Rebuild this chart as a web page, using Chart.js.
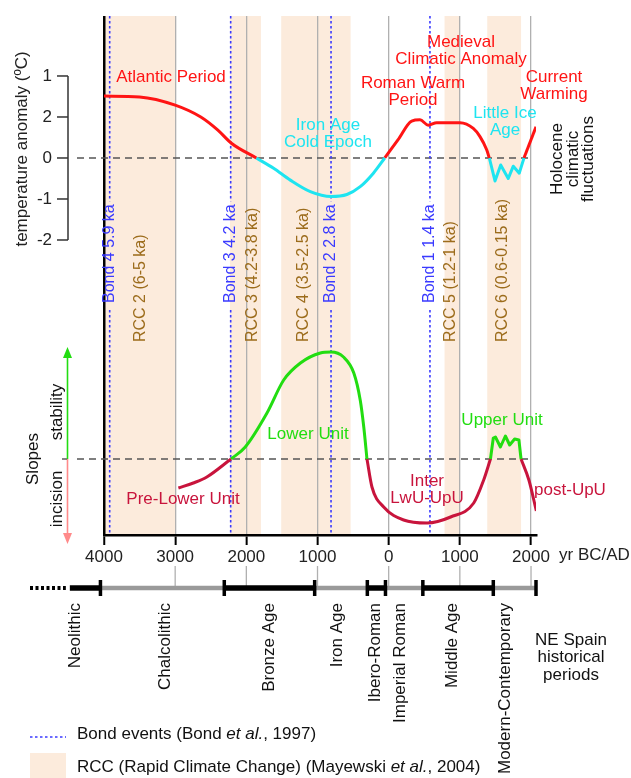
<!DOCTYPE html>
<html>
<head>
<meta charset="utf-8">
<title>Holocene climatic fluctuations and slope dynamics, NE Spain</title>
<script src="https://cdn.jsdelivr.net/npm/chart.js@4"></script>
<style>
  html, body { margin: 0; padding: 0; background: #fff; }
  #chart { display: block; }
</style>
</head>
<body>
<canvas id="chart" width="631" height="778"></canvas>
<script>
const FONT = '"Liberation Sans", Arial, Helvetica, sans-serif';

// temperature anomaly curve, split in warm / cold stretches (yr BC negative)
const atlanticYears = [-4000, -3500, -3000, -2640, -2400, -2210, -1860];
const atlanticValues = [1.51, 1.49, 1.29, 1.0, 0.68, 0.36, 0];
const ironYears = [-1860, -1617, -1382, -1101, -810, -587, -400, -215, -55];
const ironValues = [0, -0.25, -0.54, -0.82, -0.94, -0.89, -0.70, -0.37, 0];
const romanYears = [-55, 130, 323, 440, 556, 674, 1002, 1189, 1283, 1377, 1414];
const romanValues = [0, 0.44, 0.90, 0.93, 0.80, 0.86, 0.86, 0.72, 0.52, 0.20, 0];
const liaYears = [1414, 1494, 1574, 1680, 1751, 1835, 1901];
const liaValues = [0, -0.56, -0.17, -0.50, -0.20, -0.37, 0];
const currentYears = [1901, 2070];
const currentValues = [0, 0.76];

// slope stability / incision curve
const preLowerYears = [-2955, -2745, -2555, -2215];
const preLowerValues = [-2.9, -2.4, -1.8, 0];
const lowerYears = [-2215, -2015, -1710, -1475, -1240, -960, -810, -635, -490, -400, -350, -305];
const lowerValues = [0, 1.2, 4.6, 7.9, 9.6, 10.6, 10.7, 10.2, 8.6, 5.9, 3.2, 0];
const interYears = [-305, -235, -70, 210, 540, 870, 1195, 1335, 1430];
const interValues = [0, -2.8, -4.8, -6.1, -6.4, -5.8, -4.4, -2.1, 0];
const upperYears = [1430, 1470, 1500, 1570, 1640, 1700, 1770, 1830, 1860];
const upperValues = [0, 2.1, 2.2, 1.2, 2.3, 1.4, 2.0, 1.9, 0];
const postYears = [1860, 1970, 2075];
const postValues = [0, -2.1, -5.2];

// Bond events and RCC periods
const bondYears = [-3920, -2220, -810, 580];
const bondLabels = ['Bond 4 5.9 ka', 'Bond 3 4.2 ka', 'Bond 2 2.8 ka', 'Bond 1 1.4 ka'];
const rccStart = [-4000, -2230, -1510, 785, 1385];
const rccEnd = [-3000, -1795, -535, 1000, 1860];
const rccLabels = ['RCC 2 (6-5 ka)', 'RCC 3 (4.2-3.8 ka)', 'RCC 4 (3.5-2.5 ka)', 'RCC 5 (1.2-1 ka)', 'RCC 6 (0.6-0.15 ka)'];
const rccLabelYears = [-3490, -1915, -1195, 867, 1607];

// axes
const xTickValues = [-4000, -3000, -2000, -1000, 0, 1000, 2000];
const tempTickValues = [2, 1, 0, -1, -2];
const tempTickLabels = ['1', '2', '0', '-1', '-2'];

// NE Spain historical periods
const periodNames = ['Neolithic', 'Chalcolithic', 'Bronze Age', 'Iron Age', 'Ibero-Roman', 'Imperial Roman', 'Middle Age', 'Modern-Contemporary'];
const periodBounds = [-4480, -4050, -2310, -1040, -300, -45, 480, 1470, 2070];
const periodLabelYears = [-4410, -3140, -1675, -725, -187, 165, 890, 1640];

const RED = '#ff1414';
const CYAN = '#1ee4f0';
const GREEN = '#22dd11';
const CRIMSON = '#c8143c';
const BAND = '#fcebdc';
const BLUE = '#3a3aff';
const BROWN = '#9c6c1c';

function pts(xs, ys) {
    return xs.map((v, i) => ({ x: v, y: ys[i] }));
}

function curve(xs, ys, color, axis, smooth) {
    return {
        data: pts(xs, ys),
        borderColor: color,
        borderWidth: 3,
        pointRadius: 0,
        fill: false,
        yAxisID: axis,
        cubicInterpolationMode: smooth ? 'monotone' : 'default',
        tension: 0,
        borderJoinStyle: 'round'
    };
}

function vtext(ctx, str, x, y, align) {
    ctx.save();
    ctx.translate(x, y);
    ctx.rotate(-Math.PI / 2);
    ctx.textAlign = align;
    ctx.textBaseline = 'middle';
    ctx.fillText(str, 0, 0);
    ctx.restore();
}

function lines(ctx, rows, x, y, lh) {
    rows.forEach((r, i) => ctx.fillText(r, x, y + i * lh));
}

// text in pieces, some in italics
function richText(ctx, parts, x, y, size) {
    let cx = x;
    parts.forEach(p => {
        ctx.font = (p[1] ? 'italic ' : '') + size + 'px ' + FONT;
        ctx.fillText(p[0], cx, y);
        cx += ctx.measureText(p[0]).width;
    });
}

const decor = {
    id: 'decor',
    beforeDraw(chart) {
        const { ctx, chartArea: a } = chart;
        const x = chart.scales.x;
        ctx.save();
        ctx.fillStyle = '#fff';
        ctx.fillRect(0, 0, chart.width, chart.height);
        ctx.fillStyle = BAND;
        rccStart.forEach((s, i) => {
            const x0 = Math.max(x.getPixelForValue(s), a.left);
            const x1 = x.getPixelForValue(rccEnd[i]);
            ctx.fillRect(x0, a.top, x1 - x0, a.bottom - a.top);
        });
        ctx.restore();
    },
    beforeDatasetsDraw(chart) {
        const { ctx, chartArea: a } = chart;
        const x = chart.scales.x, yT = chart.scales.yT, yS = chart.scales.yS;
        ctx.save();

        // zero lines
        ctx.strokeStyle = '#555';
        ctx.lineWidth = 1.5;
        ctx.setLineDash([7, 5]);
        [yT.getPixelForValue(0), yS.getPixelForValue(0)].forEach(py => {
            ctx.beginPath();
            ctx.moveTo(77, py);
            ctx.lineTo(528, py);
            ctx.stroke();
        });

        // RCC labels
        ctx.font = '16px ' + FONT;
        ctx.fillStyle = BROWN;
        rccLabels.forEach((t, i) => vtext(ctx, t, x.getPixelForValue(rccLabelYears[i]), 342, 'left'));

        // Bond events
        ctx.fillStyle = BLUE;
        ctx.strokeStyle = BLUE;
        ctx.lineWidth = 1.6;
        ctx.setLineDash([2.5, 2.5]);
        bondYears.forEach((b, i) => {
            const px = x.getPixelForValue(b);
            const w = ctx.measureText(bondLabels[i]).width;
            const base = 303;
            ctx.beginPath();
            ctx.moveTo(px, a.top);
            ctx.lineTo(px, base - w - 3);
            ctx.moveTo(px, base + 7);
            ctx.lineTo(px, a.bottom);
            ctx.stroke();
            vtext(ctx, bondLabels[i], px, base, 'left');
        });
        ctx.restore();
    },
    afterDraw(chart) {
        const { ctx, chartArea: a } = chart;
        const x = chart.scales.x, yT = chart.scales.yT, yS = chart.scales.yS;
        ctx.save();
        ctx.setLineDash([]);
        ctx.textBaseline = 'middle';

        // temperature axis
        ctx.strokeStyle = '#333';
        ctx.lineWidth = 1.5;
        ctx.beginPath();
        ctx.moveTo(68, yT.getPixelForValue(tempTickValues[0]));
        ctx.lineTo(68, yT.getPixelForValue(tempTickValues[tempTickValues.length - 1]));
        ctx.stroke();
        ctx.font = '17px ' + FONT;
        ctx.fillStyle = '#222';
        ctx.textAlign = 'right';
        tempTickValues.forEach((v, i) => {
            const py = yT.getPixelForValue(v);
            ctx.beginPath();
            ctx.moveTo(57, py);
            ctx.lineTo(68, py);
            ctx.stroke();
            ctx.fillText(tempTickLabels[i], 52, py);
        });
        vtext(ctx, 'temperature anomaly (ºC)', 22, 149, 'center');

        // slopes axis with arrows
        const y0 = yS.getPixelForValue(0);
        ctx.lineWidth = 1.6;
        ctx.strokeStyle = GREEN;
        ctx.fillStyle = GREEN;
        ctx.beginPath();
        ctx.moveTo(67.5, y0);
        ctx.lineTo(67.5, 356);
        ctx.stroke();
        ctx.beginPath();
        ctx.moveTo(67.5, 347);
        ctx.lineTo(63, 358);
        ctx.lineTo(72, 358);
        ctx.closePath();
        ctx.fill();
        ctx.strokeStyle = '#ff8a8a';
        ctx.fillStyle = '#ff8a8a';
        ctx.beginPath();
        ctx.moveTo(67.5, y0);
        ctx.lineTo(67.5, 534);
        ctx.stroke();
        ctx.beginPath();
        ctx.moveTo(67.5, 544);
        ctx.lineTo(63, 533);
        ctx.lineTo(72, 533);
        ctx.closePath();
        ctx.fill();
        ctx.strokeStyle = '#666';
        ctx.beginPath();
        ctx.moveTo(62, y0);
        ctx.lineTo(67, y0);
        ctx.stroke();
        ctx.fillStyle = '#111';
        vtext(ctx, 'Slopes', 33, y0, 'center');
        vtext(ctx, 'stability', 57, 412, 'center');
        vtext(ctx, 'incision', 57, 499, 'center');

        // curve annotations
        ctx.textAlign = 'center';
        ctx.fillStyle = RED;
        ctx.fillText('Atlantic Period', 171, 77);
        lines(ctx, ['Roman Warm', 'Period'], 413, 83, 17);
        lines(ctx, ['Medieval', 'Climatic Anomaly'], 461, 42, 17);
        lines(ctx, ['Current', 'Warming'], 554, 77, 17);
        ctx.fillStyle = CYAN;
        lines(ctx, ['Iron Age', 'Cold Epoch'], 328, 125, 17);
        lines(ctx, ['Little Ice', 'Age'], 505, 113, 17);
        ctx.fillStyle = GREEN;
        ctx.fillText('Lower Unit', 308, 434);
        ctx.fillText('Upper Unit', 502, 420);
        ctx.fillStyle = CRIMSON;
        ctx.fillText('Pre-Lower Unit', 183, 499);
        lines(ctx, ['Inter', 'LwU-UpU'], 427, 481, 17);
        ctx.fillText('post-UpU', 570, 490);
        ctx.fillStyle = '#111';
        vtext(ctx, 'Holocene', 557, 159, 'center');
        vtext(ctx, 'climatic', 573, 159, 'center');
        vtext(ctx, 'fluctuations', 588, 159, 'center');

        // x axis unit
        ctx.textAlign = 'left';
        ctx.fillStyle = '#222';
        ctx.fillText('yr BC/AD', 559, 555);

        // grid continues down to the period bar
        const yb = 588;
        ctx.strokeStyle = '#b0b0b0';
        ctx.lineWidth = 1.3;
        x.ticks.forEach(t => {
            if (t.value === -4000) return;
            const px = x.getPixelForValue(t.value);
            ctx.beginPath();
            ctx.moveTo(px, 566);
            ctx.lineTo(px, yb);
            ctx.stroke();
        });

        // historical periods bar
        ctx.strokeStyle = '#000';
        ctx.lineWidth = 4;
        ctx.setLineDash([3, 2.5]);
        ctx.beginPath();
        ctx.moveTo(30, yb);
        ctx.lineTo(x.getPixelForValue(periodBounds[0]) - 4, yb);
        ctx.stroke();
        ctx.setLineDash([]);
        periodNames.forEach((n, i) => {
            const dark = i % 2 === 0;
            ctx.strokeStyle = dark ? '#000' : '#9a9a9a';
            ctx.lineWidth = dark ? 5.5 : 4.5;
            ctx.beginPath();
            ctx.moveTo(x.getPixelForValue(periodBounds[i]), yb);
            ctx.lineTo(x.getPixelForValue(periodBounds[i + 1]), yb);
            ctx.stroke();
        });
        ctx.fillStyle = '#000';
        periodBounds.slice(1).forEach(b => {
            ctx.fillRect(x.getPixelForValue(b) - 1.75, yb - 8, 3.5, 16);
        });
        ctx.fillStyle = '#111';
        periodNames.forEach((n, i) => vtext(ctx, n, x.getPixelForValue(periodLabelYears[i]), 603, 'right'));
        ctx.textAlign = 'center';
        lines(ctx, ['NE Spain', 'historical', 'periods'], 571, 640, 17.5);

        // legend
        ctx.textAlign = 'left';
        ctx.strokeStyle = BLUE;
        ctx.lineWidth = 1.6;
        ctx.setLineDash([2.5, 2.5]);
        ctx.beginPath();
        ctx.moveTo(30, 737);
        ctx.lineTo(66, 737);
        ctx.stroke();
        ctx.setLineDash([]);
        ctx.fillStyle = BAND;
        ctx.fillRect(30, 753, 36, 25);
        ctx.fillStyle = '#111';
        richText(ctx, [['Bond events (Bond ', false], ['et al.', true], [', 1997)', false]], 77, 734, 17);
        richText(ctx, [['RCC (Rapid Climate Change) (Mayewski ', false], ['et al.', true], [', 2004)', false]], 77, 767, 17);
        ctx.restore();
    }
};

Chart.defaults.font.family = FONT;

new Chart(document.getElementById('chart'), {
    type: 'line',
    data: {
        datasets: [
            curve(atlanticYears, atlanticValues, RED, 'yT', true),
            curve(ironYears, ironValues, CYAN, 'yT', true),
            curve(romanYears, romanValues, RED, 'yT', true),
            curve(liaYears, liaValues, CYAN, 'yT', false),
            curve(currentYears, currentValues, RED, 'yT', false),
            curve(preLowerYears, preLowerValues, CRIMSON, 'yS', true),
            curve(lowerYears, lowerValues, GREEN, 'yS', true),
            curve(interYears, interValues, CRIMSON, 'yS', true),
            curve(upperYears, upperValues, GREEN, 'yS', false),
            curve(postYears, postValues, CRIMSON, 'yS', true)
        ]
    },
    options: {
        responsive: false,
        animation: false,
        layout: { padding: { left: 104, right: 95, top: 16, bottom: 213 } },
        plugins: {
            legend: { display: false },
            tooltip: { enabled: false }
        },
        scales: {
            x: {
                type: 'linear',
                min: -4000,
                max: 2070,
                afterFit: s => { s.height = 30; },
                afterBuildTicks: s => { s.ticks = xTickValues.map(v => ({ value: v })); },
                ticks: {
                    autoSkip: false,
                    maxRotation: 0,
                    padding: 2,
                    color: '#222',
                    font: { size: 17 },
                    callback: v => String(Math.abs(v))
                },
                grid: {
                    color: c => (c.tick && c.tick.value === -4000) ? '#000' : '#b0b0b0',
                    lineWidth: c => (c.tick && c.tick.value === -4000) ? 2.5 : 1.3,
                    tickLength: 10,
                    tickColor: '#000',
                    tickWidth: 2
                },
                border: { color: '#000', width: 2.5 }
            },
            yT: { display: false, min: -9.195, max: 3.463 },
            yS: { display: false, min: -7.6, max: 44.3 }
        }
    },
    plugins: [decor]
});
</script>
</body>
</html>
